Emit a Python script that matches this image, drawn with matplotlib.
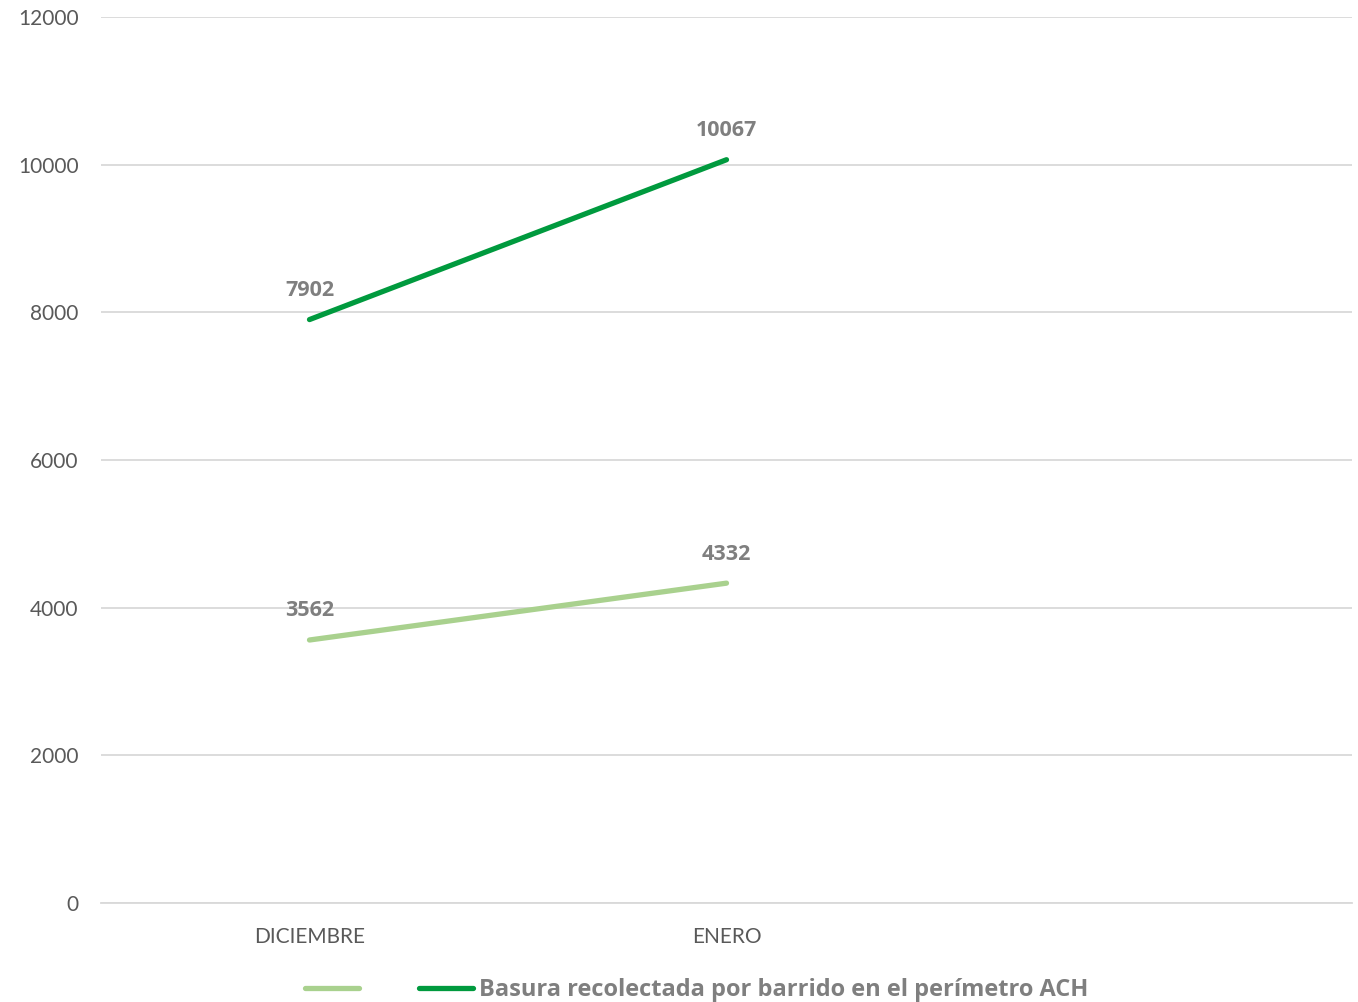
import matplotlib
matplotlib.use("Agg")
import matplotlib.pyplot as plt
from matplotlib.lines import Line2D

plt.rcParams['font.family'] = ['Lato', 'DejaVu Sans']

categories = ["DICIEMBRE", "ENERO", ""]
series_light = [3562, 4332]
series_dark = [7902, 10067]
label_light = " "
label_dark = "Basura recolectada por barrido en el perímetro ACH"
yticks = [0, 2000, 4000, 6000, 8000, 10000, 12000]

c_light = "#A9D18E"
c_dark = "#009A3E"
grid_c = "#D9D9D9"
tick_c = "#595959"
lab_c = "#7F7F7F"
bold_family = ['Open Sans', 'DejaVu Sans']

fig = plt.figure(figsize=(13.58, 10.02), dpi=100)
ax = fig.add_axes([101/1358, 1-903/1002, (1352-101)/1358, (903-17)/1002])

x = list(range(len(categories)))
ax.plot(x[:len(series_light)], series_light, color=c_light, lw=3.8, solid_capstyle='round', label=label_light)
ax.plot(x[:len(series_dark)], series_dark, color=c_dark, lw=3.8, solid_capstyle='round', label=label_dark)

for xs, vals in ((x, series_light), (x, series_dark)):
    for xi, v in zip(xs, vals):
        ax.annotate(str(v), (xi, v), xytext=(0, 17), textcoords='offset points',
                    ha='center', va='baseline', fontsize=15.5, fontweight='bold',
                    color=lab_c, family=bold_family)

ax.set_xlim(-0.5, len(categories) - 0.5)
ax.set_ylim(0, 12000)
ax.set_xticks(x)
ax.set_xticklabels(categories)
ax.set_yticks(yticks)
ax.tick_params(axis='both', length=0, labelsize=15, colors=tick_c)
ax.tick_params(axis='y', pad=16)
ax.tick_params(axis='x', pad=17)
ax.grid(axis='y', color=grid_c, lw=1.3)
ax.set_axisbelow(True)
for s in ['left', 'right', 'top']:
    ax.spines[s].set_visible(False)
ax.spines['bottom'].set_color(grid_c)
ax.spines['bottom'].set_linewidth(1.3)

handles = [Line2D([], [], color=c_light, lw=3.8, solid_capstyle='round'),
           Line2D([], [], color=c_dark, lw=3.8, solid_capstyle='round')]
fig.legend(handles, [label_light, label_dark], ncol=2, loc='center left',
           bbox_to_anchor=(305/1358, 1-990/1002), frameon=False,
           borderpad=0, borderaxespad=0, handlelength=2.3, handletextpad=0.22,
           columnspacing=2.05,
           prop={'size': 17, 'weight': 'bold', 'family': bold_family}, labelcolor=lab_c)

fig.savefig("out.png", dpi=100)
